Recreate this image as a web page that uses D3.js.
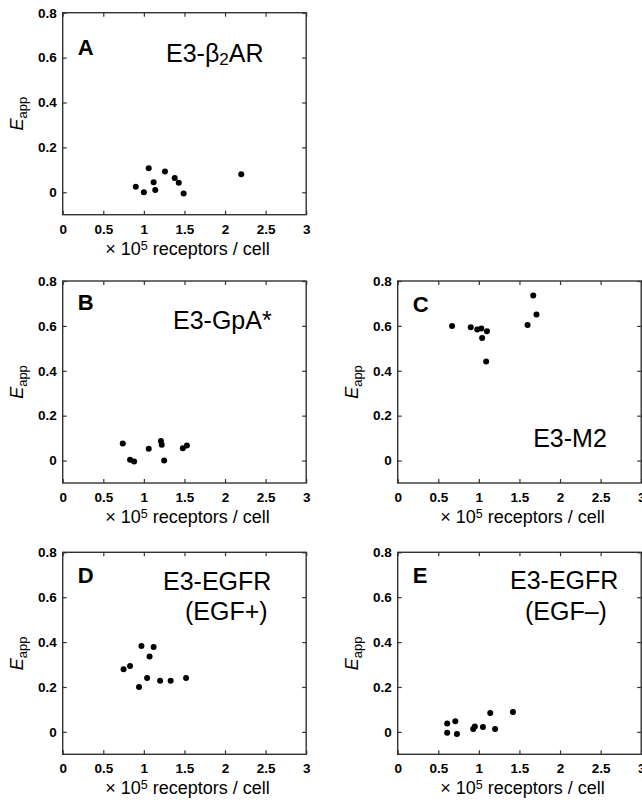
<!DOCTYPE html>
<html>
<head>
<meta charset="utf-8">
<script src="https://cdn.jsdelivr.net/npm/d3@7"></script>
<style>
  body { margin: 0; background: #fff; }
  svg { font-family: "Liberation Sans", Arial, sans-serif; }
  .tick text { font-weight: bold; font-size: 13.5px; fill: #000; }
  .tick line { stroke: #333; stroke-width: 1.2; }
</style>
</head>
<body>
<script>
// data: receptor density (x 10^5 / cell) and apparent FRET
var aX = [0.90, 1.00, 1.06, 1.12, 1.14, 1.26, 1.38, 1.43, 1.49, 2.20];
var aY = [0.024, 0.000, 0.107, 0.045, 0.010, 0.092, 0.064, 0.042, -0.006, 0.080];

var bX = [0.74, 0.83, 0.88, 1.06, 1.21, 1.22, 1.25, 1.48, 1.53];
var bY = [0.076, 0.004, -0.004, 0.053, 0.087, 0.070, 0.000, 0.055, 0.067];

var cX = [0.67, 0.90, 0.98, 1.03, 1.04, 1.10, 1.09, 1.60, 1.67, 1.71];
var cY = [0.600, 0.594, 0.584, 0.588, 0.546, 0.576, 0.441, 0.604, 0.735, 0.651];

var dX = [0.75, 0.83, 0.97, 0.94, 1.07, 1.04, 1.12, 1.20, 1.33, 1.52];
var dY = [0.279, 0.293, 0.382, 0.200, 0.336, 0.240, 0.378, 0.228, 0.228, 0.240];

var eX = [0.61, 0.61, 0.71, 0.73, 0.93, 0.95, 1.05, 1.14, 1.20, 1.42];
var eY = [0.037, -0.004, 0.047, -0.010, 0.013, 0.024, 0.022, 0.084, 0.013, 0.089];

var xTicks = [0, 0.5, 1, 1.5, 2, 2.5, 3];
var xTickLabels = ["0", "0.5", "1", "1.5", "2", "2.5", "3"];
var yTicks = [0, 0.2, 0.4, 0.6, 0.8];
var yTickLabels = ["0", "0.2", "0.4", "0.6", "0.8"];

var pw = 243.5, ph = 202;

// panel layout (pixel offsets inside each panel)
var panels = [
  {letter: "A", left: 62.7, top: 12.7, xs: aX, ys: aY, letterY: 42,
   lines: [{t: ["E3-β", "2", "AR"], x: 103.3, y: 49.3}]},
  {letter: "B", left: 62.7, top: 281, xs: bX, ys: bY, letterY: 29,
   lines: [{t: ["E3-GpA*"], x: 110.3, y: 48}]},
  {letter: "C", left: 397.7, top: 281, xs: cX, ys: cY, letterY: 30.7,
   lines: [{t: ["E3-M2"], x: 135.5, y: 166}]},
  {letter: "D", left: 62.7, top: 552.3, xs: dX, ys: dY, letterY: 31,
   lines: [{t: ["E3-EGFR"], x: 100.3, y: 37.7}, {t: ["(EGF+)"], x: 122.3, y: 67.7}]},
  {letter: "E", left: 397.7, top: 552.3, xs: eX, ys: eY, letterY: 31,
   lines: [{t: ["E3-EGFR"], x: 112.3, y: 36.7}, {t: ["(EGF–)"], x: 127.3, y: 67.7}]}
];

var svg = d3.select("body").append("svg")
  .attr("width", 642)
  .attr("height", 803);

var x = d3.scaleLinear().domain([0, 3]).range([0, pw]);
var y = d3.scaleLinear().domain([-0.1, 0.8]).range([ph, 0]);

panels.forEach(function(p){
  var g = svg.append("g").attr("transform", "translate(" + p.left + "," + p.top + ")");

  var bottom = g.append("g").attr("transform", "translate(0," + ph + ")")
    .call(d3.axisBottom(x).tickValues(xTicks).tickSize(-4).tickPadding(9.5)
      .tickFormat(function(d, i){ return xTickLabels[i]; }));
  var left = g.append("g")
    .call(d3.axisLeft(y).tickValues(yTicks).tickSize(-4).tickPadding(6)
      .tickFormat(function(d, i){ return yTickLabels[i]; }));
  var top = g.append("g")
    .call(d3.axisTop(x).tickValues(xTicks).tickSize(-4).tickFormat(""));
  var right = g.append("g").attr("transform", "translate(" + pw + ",0)")
    .call(d3.axisRight(y).tickValues(yTicks).tickSize(-4).tickFormat(""));
  [bottom, left, top, right].forEach(function(a){ a.select(".domain").remove(); });

  g.append("rect")
    .attr("width", pw).attr("height", ph)
    .attr("fill", "none")
    .attr("stroke", "#333")
    .attr("stroke-width", 1.4);

  g.selectAll("circle.pt")
    .data(p.xs.map(function(v, i){ return [v, p.ys[i]]; }))
    .enter().append("circle")
    .attr("class", "pt")
    .attr("cx", d => x(d[0]))
    .attr("cy", d => y(d[1]))
    .attr("r", 3)
    .attr("fill", "#000");

  g.append("text")
    .attr("x", 15).attr("y", p.letterY)
    .style("font-weight", "bold").style("font-size", "22px")
    .text(p.letter);

  p.lines.forEach(function(l){
    var t = g.append("text").attr("x", l.x).attr("y", l.y).style("font-size", "25px");
    l.t.forEach(function(s, i){
      var sp = t.append("tspan").text(s);
      if (l.t.length > 1 && i == 1) sp.attr("baseline-shift", "-18%").style("font-size", "17px");
    });
  });

  // axis titles
  var xt = g.append("text")
    .attr("x", pw / 2 + 3).attr("y", ph + 40)
    .attr("text-anchor", "middle")
    .style("font-size", "18px");
  xt.append("tspan").text("× 10");
  xt.append("tspan").attr("baseline-shift", "5.5px").style("font-size", "12.5px").text("5");
  xt.append("tspan").text(" receptors / cell");

  var yt = g.append("text")
    .attr("transform", "translate(" + (-40) + "," + (ph / 2) + ") rotate(-90)")
    .attr("text-anchor", "middle");
  yt.append("tspan").style("font-style", "italic").style("font-size", "18px").text("E");
  yt.append("tspan").attr("baseline-shift", "-30%").style("font-size", "13px").text("app");
});
</script>
</body>
</html>
